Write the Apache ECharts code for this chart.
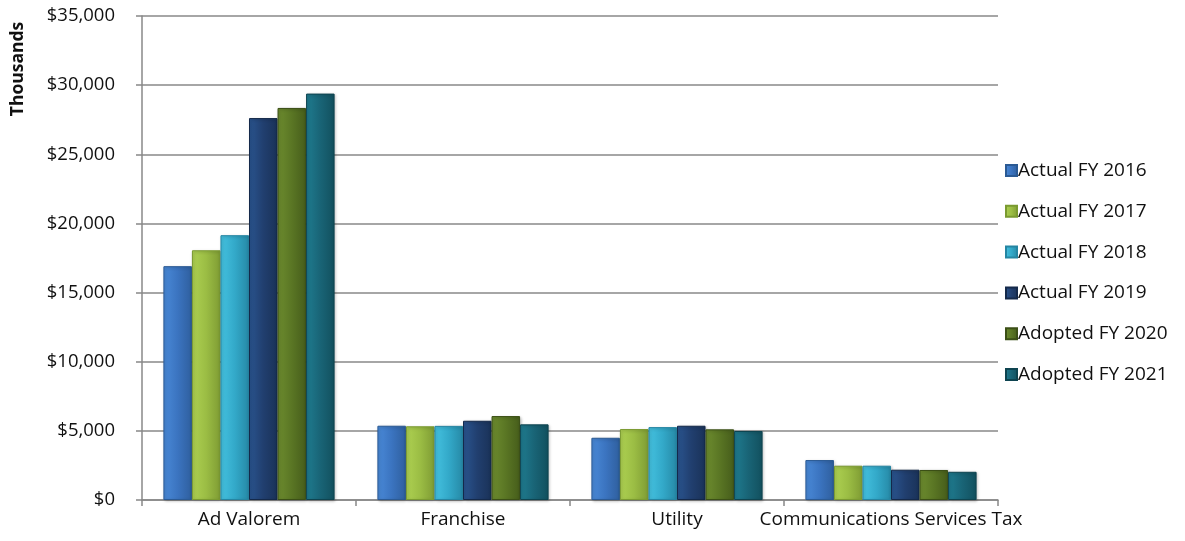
<!DOCTYPE html>
<html><head><meta charset="utf-8">
<script src="https://cdn.jsdelivr.net/npm/echarts@6/dist/echarts.min.js"></script>
<style>html,body{margin:0;padding:0;background:#fff}#c{width:1185px;height:541px}</style>
</head><body><div id="c"></div>
<script>
const categories = ['Ad Valorem', 'Franchise', 'Utility', 'Communications Services Tax'];
const seriesNames = ['Actual FY 2016', 'Actual FY 2017', 'Actual FY 2018', 'Actual FY 2019', 'Adopted FY 2020', 'Adopted FY 2021'];
const fy2016 = [16910, 5370, 4500, 2890];
const fy2017 = [18060, 5330, 5130, 2480];
const fy2018 = [19150, 5360, 5270, 2480];
const fy2019 = [27620, 5730, 5370, 2190];
const fy2020 = [28350, 6070, 5110, 2170];
const fy2021 = [29390, 5470, 4990, 2040];
const yTicks = [0, 5000, 10000, 15000, 20000, 25000, 30000, 35000];

const seriesData = [fy2016, fy2017, fy2018, fy2019, fy2020, fy2021];
const palette = [
  ['#4a8ad8', '#3b74c0', '#2f5f9e'],
  ['#aed152', '#9bbd44', '#7f9c34'],
  ['#45c2e0', '#33a9c9', '#2689a6'],
  ['#2a5590', '#213f6f', '#1a3258'],
  ['#6d8c2f', '#5a7624', '#465d1b'],
  ['#1f7c90', '#196476', '#12505e']
];
const border = ['#2b5a94', '#7a9a30', '#2585a2', '#14294a', '#3b4f16', '#0e4450'];

function grad(c) {
  return new echarts.graphic.LinearGradient(0, 0, 1, 0, [
    {offset: 0, color: c[0]}, {offset: 0.5, color: c[1]}, {offset: 1, color: c[2]}
  ]);
}

const chart = echarts.init(document.getElementById('c'), null, {renderer: 'canvas'});
const font = '"Open Sans", Lato, sans-serif';
chart.setOption({
  animation: false,
  grid: {left: 142, right: 187, top: 16, bottom: 41, containLabel: false},
  legend: {
    orient: 'vertical', left: 1000, top: 156, itemGap: 21.8,
    itemWidth: 11, itemHeight: 11, icon: 'rect',
    textStyle: {fontFamily: font, fontSize: 19, color: '#111', padding: [0, 0, 0, -4]},
    data: seriesNames
  },
  xAxis: {
    type: 'category', data: categories,
    axisLine: {lineStyle: {color: '#888', width: 1.5}},
    axisTick: {show: true, length: 6, lineStyle: {color: '#888', width: 1.5}},
    axisLabel: {interval: 0, fontFamily: font, fontSize: 19, color: '#111', margin: 10}
  },
  yAxis: {
    type: 'value', min: yTicks[0], max: yTicks[yTicks.length - 1], interval: 5000,
    axisLine: {show: true, lineStyle: {color: '#888', width: 1.5}},
    axisTick: {show: true, length: 6, lineStyle: {color: '#888', width: 1.5}},
    splitLine: {lineStyle: {color: '#888', width: 1.5}},
    axisLabel: {
      fontFamily: font, fontSize: 18.5, color: '#111', margin: 27,
      formatter: v => '$' + v.toLocaleString('en-US')
    }
  },
  graphic: [{
    type: 'text', x: 18, y: 69, rotation: Math.PI / 2,
    style: {text: 'Thousands', fontFamily: font, fontWeight: 'bold', fontSize: 17.5, fill: '#111', align: 'center', verticalAlign: 'middle'}
  }],
  series: seriesNames.map((n, i) => ({
    name: n, type: 'bar', data: seriesData[i],
    barGap: '0%', barCategoryGap: '20%',
    itemStyle: {color: grad(palette[i]), borderColor: border[i], borderWidth: 1,
      shadowColor: 'rgba(0,0,0,0.25)', shadowBlur: 3, shadowOffsetX: 1, shadowOffsetY: 1}
  }))
});
</script></body></html>
